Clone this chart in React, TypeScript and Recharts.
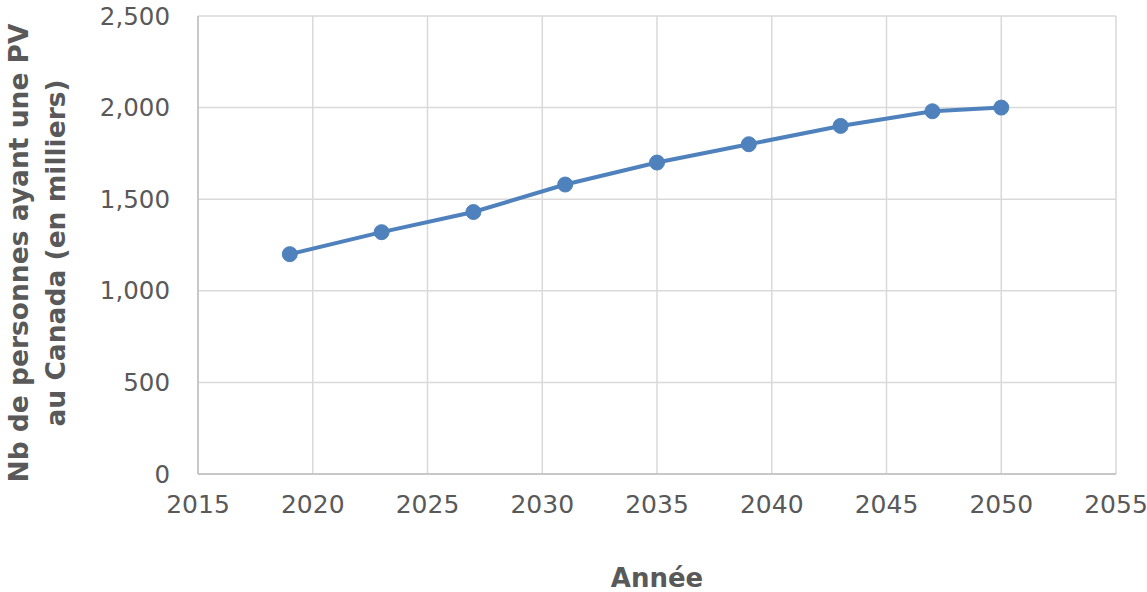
import { CartesianGrid, Line, LineChart, XAxis, YAxis } from "recharts"

const years = [2019, 2023, 2027, 2031, 2035, 2039, 2043, 2047, 2050]
const persons = [1200, 1320, 1430, 1580, 1700, 1800, 1900, 1980, 2000]
const xTicks = [2015, 2020, 2025, 2030, 2035, 2040, 2045, 2050, 2055]
const yTicks = [0, 500, 1000, 1500, 2000, 2500]

const data = years.map((year, i) => ({ year, value: persons[i] }))

const FONT = "Verdana, 'DejaVu Sans', sans-serif"
const TEXT = "#595959"

function YTitle({ viewBox }: any) {
  const cy = viewBox.y + viewBox.height / 2 + 8
  return (
    <text
      transform={`translate(0, ${cy}) rotate(-90)`}
      textAnchor="middle"
      fontFamily={FONT}
      fontWeight="bold"
      fontSize={26.5}
      fill={TEXT}
    >
      <tspan x={0} y={28}>Nb de personnes ayant une PV</tspan>
      <tspan x={0} y={65}>au Canada (en milliers)</tspan>
    </text>
  )
}

function XTitle({ viewBox }: any) {
  return (
    <text
      x={viewBox.x + viewBox.width / 2}
      y={587}
      textAnchor="middle"
      fontFamily={FONT}
      fontWeight="bold"
      fontSize={26}
      fill={TEXT}
    >
      Année
    </text>
  )
}

export default function App() {
  return (
    <div style={{ position: "absolute", left: 0, top: 0, background: "#fff" }}>
      <LineChart width={1147} height={592} data={data} margin={{ top: 16, right: 31, bottom: 0, left: 0 }}>
        <CartesianGrid stroke="#d9d9d9" strokeWidth={1.5} />
        <XAxis
          dataKey="year"
          type="number"
          domain={[2015, 2055]}
          ticks={xTicks}
          height={118}
          tickLine={false}
          tickMargin={15}
          axisLine={{ stroke: "#bfbfbf", strokeWidth: 1.5 }}
          tick={{ fill: TEXT, fontSize: 25, fontFamily: FONT }}
          label={<XTitle />}
        />
        <YAxis
          type="number"
          domain={[0, 2500]}
          ticks={yTicks}
          width={198}
          tickLine={false}
          tickMargin={22}
          axisLine={{ stroke: "#bfbfbf", strokeWidth: 1.5 }}
          tick={{ fill: TEXT, fontSize: 24.5, fontFamily: FONT }}
          tickFormatter={(v: number) => v.toLocaleString("en-US")}
          label={<YTitle />}
        />
        <Line
          dataKey="value"
          stroke="#4f81bd"
          strokeWidth={4}
          dot={{ r: 7.5, fill: "#4f81bd", stroke: "#4f81bd", strokeWidth: 1 }}
          isAnimationActive={false}
        />
      </LineChart>
    </div>
  )
}
